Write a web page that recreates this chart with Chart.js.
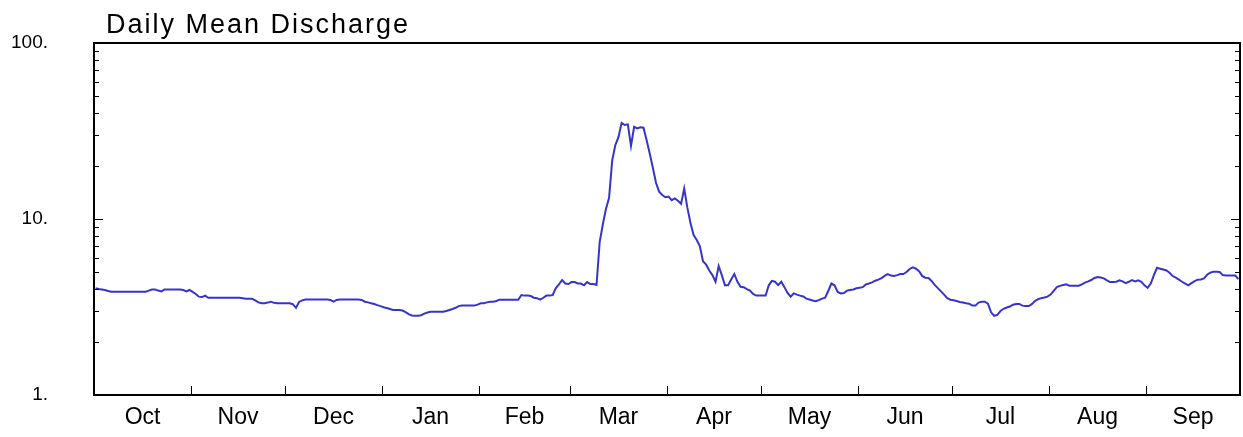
<!DOCTYPE html>
<html>
<head>
<meta charset="utf-8">
<title>Daily Mean Discharge</title>
<script src="https://cdn.jsdelivr.net/npm/chart.js@4"></script>
<style>
  html, body { margin: 0; padding: 0; background: #fff; }
  #wrap { width: 1243px; height: 437px; }
</style>
</head>
<body>
<div id="wrap"><canvas id="discharge" width="1243" height="437"></canvas></div>
<script>
// meses do ano hidrológico (out a set)
const months = ['Oct', 'Nov', 'Dec', 'Jan', 'Feb', 'Mar', 'Apr', 'May', 'Jun', 'Jul', 'Aug', 'Sep'];
const monthDays = [31, 30, 31, 31, 29, 31, 30, 31, 30, 31, 31, 30];
const yTicks = [1, 10, 100];

// vazão média diária, um array por mês
const oct = [4.04, 4.0, 3.98, 3.95, 3.9, 3.86, 3.86, 3.86, 3.86, 3.86, 3.86, 3.86, 3.86, 3.86, 3.86, 3.86, 3.86,
  3.92, 3.97, 3.97, 3.92, 3.88, 3.97, 3.97, 3.97, 3.97, 3.97, 3.97, 3.95, 3.88, 3.95];
const nov = [3.85, 3.75, 3.62, 3.6, 3.67, 3.57, 3.57, 3.57, 3.57, 3.57, 3.57, 3.57, 3.57, 3.57, 3.57, 3.57,
  3.55, 3.52, 3.52, 3.52, 3.45, 3.36, 3.32, 3.32, 3.35, 3.39, 3.34, 3.32, 3.32, 3.32];
const dec = [3.32, 3.32, 3.28, 3.13, 3.38, 3.45, 3.49, 3.49, 3.49, 3.49, 3.49, 3.49, 3.49, 3.49, 3.47, 3.39,
  3.47, 3.49, 3.49, 3.49, 3.49, 3.49, 3.49, 3.49, 3.47, 3.39, 3.36, 3.32, 3.29, 3.24, 3.2];
const jan = [3.15, 3.12, 3.08, 3.04, 3.04, 3.04, 3.02, 2.96, 2.88, 2.83, 2.82, 2.82, 2.84, 2.9, 2.94, 2.97,
  2.97, 2.97, 2.97, 2.97, 3.0, 3.04, 3.08, 3.13, 3.2, 3.22, 3.22, 3.22, 3.22, 3.22, 3.26];
const feb = [3.32, 3.32, 3.36, 3.39, 3.39, 3.42, 3.48, 3.48, 3.48, 3.48, 3.48, 3.48, 3.48, 3.7, 3.67, 3.67,
  3.65, 3.57, 3.55, 3.48, 3.57, 3.67, 3.67, 3.7, 4.05, 4.25, 4.5, 4.3, 4.27];
const mar = [4.38, 4.38, 4.3, 4.3, 4.2, 4.38, 4.27, 4.27, 4.22, 7.4, 9.3, 11.4, 13.2, 21.5, 26.3, 29.2,
  35.2, 34.2, 34.5, 26.0, 33.4, 32.7, 33.2, 33.0, 28, 23.5, 19.5, 16, 14.3, 13.7, 13.3];
const apr = [13.4, 12.8, 13.1, 12.7, 12.2, 14.9, 11.6, 9.5, 8.1, 7.6, 7.0, 5.75, 5.5, 5.1, 4.8, 4.4,
  5.4, 4.8, 4.21, 4.21, 4.53, 4.87, 4.4, 4.12, 4.1, 4.0, 3.92, 3.75, 3.67, 3.67];
const may = [3.67, 3.67, 4.2, 4.45, 4.4, 4.21, 4.4, 4.1, 3.8, 3.62, 3.78, 3.72, 3.67, 3.63, 3.53, 3.49,
  3.44, 3.41, 3.46, 3.53, 3.57, 3.9, 4.3, 4.2, 3.85, 3.78, 3.8, 3.92, 3.95, 3.98, 4.04];
const jun = [4.07, 4.1, 4.25, 4.3, 4.36, 4.46, 4.52, 4.62, 4.75, 4.86, 4.77, 4.74, 4.8, 4.87, 4.87, 5.0,
  5.2, 5.31, 5.22, 5.05, 4.75, 4.64, 4.62, 4.45, 4.22, 4.05, 3.88, 3.72, 3.55, 3.48];
const jul = [3.45, 3.42, 3.38, 3.35, 3.32, 3.3, 3.22, 3.22, 3.35, 3.39, 3.39, 3.3, 2.95, 2.82, 2.85, 3.0,
  3.09, 3.14, 3.18, 3.26, 3.29, 3.29, 3.22, 3.2, 3.2, 3.28, 3.42, 3.5, 3.55, 3.58, 3.62];
const aug = [3.72, 3.9, 4.1, 4.17, 4.22, 4.25, 4.18, 4.18, 4.18, 4.18, 4.25, 4.35, 4.42, 4.5, 4.62, 4.68,
  4.65, 4.6, 4.48, 4.38, 4.38, 4.4, 4.48, 4.42, 4.32, 4.4, 4.5, 4.42, 4.48, 4.4, 4.2];
const sep = [4.06, 4.3, 4.8, 5.28, 5.22, 5.16, 5.1, 4.95, 4.74, 4.64, 4.52, 4.4, 4.3, 4.2, 4.32, 4.44,
  4.52, 4.53, 4.6, 4.82, 4.95, 5.02, 5.02, 5.0, 4.8, 4.77, 4.77, 4.77, 4.77, 4.55];

document.addEventListener('DOMContentLoaded', () => {
  const daily = [oct, nov, dec, jan, feb, mar, apr, may, jun, jul, aug, sep].flat();
  const points = daily.map((v, i) => ({ x: i + 0.5, y: v }));

  // inicio de cada mes (em dias) e meio do mes para os rotulos
  const starts = [];
  let acc = 0;
  monthDays.forEach(n => { starts.push(acc); acc += n; });
  const totalDays = acc;
  const mids = starts.map((s, i) => s + monthDays[i] / 2);

  const minorY = [];
  for (let d = 1; d < 100; d *= 10) {
    for (let k = 2; k <= 9; k++) minorY.push(k * d);
  }

  const noPad = axis => {
    axis.paddingTop = 0; axis.paddingBottom = 0;
    axis.paddingLeft = 0; axis.paddingRight = 0;
  };

  const framePlugin = {
    id: 'frame',
    afterDraw(chart) {
      const { ctx, chartArea: a, scales } = chart;
      ctx.save();
      ctx.strokeStyle = '#000';
      ctx.lineWidth = 1;
      // ticks menores do eixo y (dentro, dos dois lados)
      minorY.concat([10]).forEach(v => {
        const y = Math.round(scales.y.getPixelForValue(v)) + 0.5;
        const len = v === 10 ? 9 : 5;
        ctx.beginPath();
        ctx.moveTo(a.left, y); ctx.lineTo(a.left + len, y);
        ctx.moveTo(a.right, y); ctx.lineTo(a.right - len, y);
        ctx.stroke();
      });
      // ticks dos meses
      starts.slice(1).forEach(s => {
        const x = Math.round(scales.x.getPixelForValue(s)) + 0.5;
        ctx.beginPath();
        ctx.moveTo(x, a.bottom); ctx.lineTo(x, a.bottom - 9);
        ctx.stroke();
      });
      ctx.lineWidth = 2;
      ctx.strokeRect(a.left, a.top, a.right - a.left, a.bottom - a.top);
      // titulo
      ctx.fillStyle = '#000';
      ctx.font = '27px "Liberation Sans", Arial, sans-serif';
      ctx.letterSpacing = '2px';
      ctx.textBaseline = 'alphabetic';
      ctx.textAlign = 'left';
      ctx.fillText('Daily Mean Discharge', 106, 33);
      ctx.letterSpacing = '0px';
      ctx.restore();
    }
  };

  const ctx = document.getElementById('discharge');

  new Chart(ctx, {
    type: 'line',
    data: {
      datasets: [
        {
          label: 'Daily Mean Discharge',
          data: points,
          borderColor: '#3535cc',
          borderWidth: 2,
          pointRadius: 0,
          tension: 0,
          fill: false,
        }
      ],
    },
    options: {
      responsive: false,
      animation: false,
      layout: { padding: { top: 43, right: 3, left: 0, bottom: 0 } },
      scales: {
        x: {
          type: 'linear',
          min: 0,
          max: totalDays,
          grid: { display: false, drawTicks: false },
          border: { display: false },
          afterBuildTicks: axis => { axis.ticks = mids.map(v => ({ value: v })); },
          afterFit: axis => { axis.height = 42; noPad(axis); },
          ticks: {
            autoSkip: false,
            maxRotation: 0,
            padding: 9,
            color: '#000',
            font: { family: '"Liberation Sans", Arial, sans-serif', size: 23 },
            callback: (v, i) => months[i],
          },
        },
        y: {
          type: 'logarithmic',
          min: 1,
          max: 100,
          grid: { display: false, drawTicks: false },
          border: { display: false },
          afterBuildTicks: axis => { axis.ticks = yTicks.map(v => ({ value: v })); },
          afterFit: axis => { axis.width = 94; noPad(axis); },
          ticks: {
            padding: 46,
            color: '#000',
            font: { family: '"Liberation Sans", Arial, sans-serif', size: 19 },
            callback: v => v + '.',
          },
        },
      },
      plugins: {
        legend: { display: false },
        tooltip: { enabled: false },
      },
    },
    plugins: [framePlugin],
  });
});
</script>
</body>
</html>
